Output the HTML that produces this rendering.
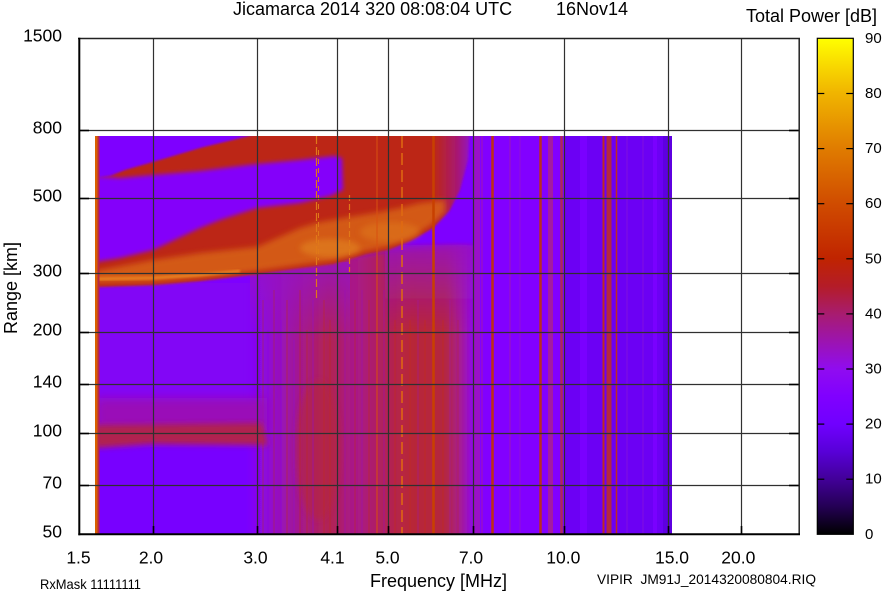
<!DOCTYPE html>
<html><head><meta charset="utf-8">
<style>
html,body{margin:0;padding:0;background:#fff;}
svg{display:block;}
text{font-family:"Liberation Sans",Arial,sans-serif;fill:#000;}
</style></head><body>
<svg width="884" height="595" viewBox="0 0 884 595" xmlns="http://www.w3.org/2000/svg">
<defs>
 <linearGradient id="cb" x1="0" y1="0" x2="0" y2="1">
  <stop offset="0" stop-color="#ffff00"/>
  <stop offset="0.056" stop-color="#f8d800"/>
  <stop offset="0.111" stop-color="#f0b400"/>
  <stop offset="0.167" stop-color="#e89800"/>
  <stop offset="0.222" stop-color="#e07c00"/>
  <stop offset="0.278" stop-color="#d86400"/>
  <stop offset="0.333" stop-color="#d04c00"/>
  <stop offset="0.389" stop-color="#c83800"/>
  <stop offset="0.444" stop-color="#c02400"/>
  <stop offset="0.500" stop-color="#b41c28"/>
  <stop offset="0.556" stop-color="#a81c70"/>
  <stop offset="0.611" stop-color="#9c14b0"/>
  <stop offset="0.667" stop-color="#900cf0"/>
  <stop offset="0.722" stop-color="#8000ff"/>
  <stop offset="0.778" stop-color="#7000ff"/>
  <stop offset="0.833" stop-color="#5800d8"/>
  <stop offset="0.889" stop-color="#420098"/>
  <stop offset="0.944" stop-color="#240054"/>
  <stop offset="1" stop-color="#000000"/>
 </linearGradient>
 <linearGradient id="lowmid" x1="248" y1="0" x2="476" y2="0" gradientUnits="userSpaceOnUse">
  <stop offset="0" stop-color="#8000ff"/>
  <stop offset="0.13" stop-color="#9610c0"/>
  <stop offset="0.27" stop-color="#aa1c78"/>
  <stop offset="0.36" stop-color="#b22450"/>
  <stop offset="0.46" stop-color="#a8188c"/>
  <stop offset="0.58" stop-color="#b02060"/>
  <stop offset="0.71" stop-color="#b82838"/>
  <stop offset="0.87" stop-color="#b42840"/>
  <stop offset="0.94" stop-color="#a41aa0"/>
  <stop offset="1" stop-color="#8800f8"/>
 </linearGradient>
 <linearGradient id="redF" x1="95" y1="0" x2="472" y2="0" gradientUnits="userSpaceOnUse">
  <stop offset="0" stop-color="#bc2818"/>
  <stop offset="0.9" stop-color="#bc2818"/>
  <stop offset="0.96" stop-color="#a81870"/>
  <stop offset="1" stop-color="#9010d0"/>
 </linearGradient>
 <linearGradient id="topfade" x1="0" y1="0" x2="0" y2="1">
  <stop offset="0" stop-color="#9612c4" stop-opacity="0.85"/>
  <stop offset="1" stop-color="#9612c4" stop-opacity="0"/>
 </linearGradient>
 <clipPath id="hm"><rect x="95" y="136" width="577" height="398"/></clipPath>
 <filter id="b1" x="-20%" y="-20%" width="140%" height="140%"><feGaussianBlur stdDeviation="1"/></filter>
 <filter id="b2" x="-20%" y="-20%" width="140%" height="140%"><feGaussianBlur stdDeviation="2"/></filter>
 <filter id="b3" x="-20%" y="-20%" width="140%" height="140%"><feGaussianBlur stdDeviation="3"/></filter>
 <filter id="b5" x="-20%" y="-30%" width="140%" height="160%"><feGaussianBlur stdDeviation="5"/></filter>
</defs>

<rect x="0" y="0" width="884" height="595" fill="#fff"/>

<!-- heatmap -->
<g clip-path="url(#hm)">
 <rect x="95" y="136" width="577" height="398" fill="#7e00ff"/>
 <rect x="95" y="447" width="170" height="87" fill="#7800ff"/>
 <rect x="95" y="283" width="165" height="120" fill="#8206f6"/>
 <rect x="473" y="136" width="92" height="398" fill="#8200ff"/>
 <rect x="565" y="136" width="107" height="398" fill="#6c00f4"/>
 <rect x="663" y="136" width="9" height="398" fill="#5e00e0"/>

 <!-- lower middle reddish region -->
 <polygon points="250,268 300,264 340,258 390,250 470,246 476,246 476,540 250,540" fill="url(#lowmid)" filter="url(#b3)"/>
 <rect x="250" y="262" width="100" height="80" fill="url(#topfade)"/>
 <rect x="385" y="245" width="90" height="85" fill="url(#topfade)" filter="url(#b2)"/>
 <ellipse cx="318" cy="450" rx="22" ry="70" fill="#b42840" opacity="0.6" filter="url(#b3)"/>
 <!-- streaks -->
 <g stroke-width="1.2" opacity="0.45">
  <line x1="263" y1="300" x2="263" y2="534" stroke="#b02840"/>
  <line x1="268" y1="330" x2="268" y2="534" stroke="#8600f0"/>
  <line x1="274" y1="290" x2="274" y2="534" stroke="#b42838"/>
  <line x1="281" y1="320" x2="281" y2="534" stroke="#8a04e8"/>
  <line x1="287" y1="300" x2="287" y2="534" stroke="#c02c20"/>
  <line x1="294" y1="340" x2="294" y2="534" stroke="#9010d0"/>
  <line x1="300" y1="290" x2="300" y2="534" stroke="#c02c20"/>
  <line x1="307" y1="330" x2="307" y2="534" stroke="#c02c20"/>
  <line x1="313" y1="300" x2="313" y2="534" stroke="#9010d0"/>
  <line x1="324" y1="300" x2="324" y2="534" stroke="#c02c20"/>
  <line x1="330" y1="320" x2="330" y2="534" stroke="#c02c20"/>
  <line x1="345" y1="290" x2="345" y2="534" stroke="#9a10b8"/>
  <line x1="355" y1="300" x2="355" y2="534" stroke="#c02c20"/>
  <line x1="362" y1="290" x2="362" y2="534" stroke="#9a10b8"/>
  <line x1="369" y1="300" x2="369" y2="534" stroke="#c02c20"/>
  <line x1="384" y1="290" x2="384" y2="534" stroke="#9a10b8"/>
  <line x1="395" y1="320" x2="395" y2="534" stroke="#c43018"/>
  <line x1="410" y1="320" x2="410" y2="534" stroke="#c43018"/>
  <line x1="418" y1="300" x2="418" y2="534" stroke="#a018a0"/>
  <line x1="425" y1="320" x2="425" y2="534" stroke="#c43018"/>
  <line x1="443" y1="320" x2="443" y2="534" stroke="#c43018"/>
  <line x1="450" y1="300" x2="450" y2="534" stroke="#a018a0"/>
  <line x1="458" y1="320" x2="458" y2="534" stroke="#b42840"/>
 </g>

 <!-- E-layer band -->
 <rect x="95" y="398" width="172" height="32" fill="#9a10b8" filter="url(#b5)"/>
 <path d="M95,425 L262,423 L268,445 L150,444 L95,448 Z" fill="#b02050" filter="url(#b3)"/>

 <!-- F region red -->
 <polygon points="95,287 153,285 200,281 257,274 300,268 333,264 367,254 388,250 410,241 433,228 450,210 460,190 468,160 470,130 270,130 245,137 200,148 153,162 125,170 110,176 95,178" fill="url(#redF)" filter="url(#b1)"/>
 <!-- gap between traces -->
 <polygon points="95,176 120,178 153,175 200,171 257,164 300,160 335,156 342,158 343,190 330,196 300,203 257,208 220,220 200,228 153,250 120,258 95,262" fill="#8400fa" filter="url(#b2)"/>
 <!-- orange core -->
 <polygon points="95,283 153,282 200,278 257,271 300,265 333,261 367,251 388,247 410,238 430,226 445,212 445,200 420,203 400,208 380,212 350,217 320,222 300,228 257,247 200,253 153,260 95,271" fill="#d86412" opacity="0.85" filter="url(#b3)"/>
 <ellipse cx="330" cy="248" rx="30" ry="9" fill="#e48a20" opacity="0.55" filter="url(#b3)"/>
 <ellipse cx="390" cy="232" rx="30" ry="10" fill="#e07c1c" opacity="0.5" filter="url(#b3)"/>
 <polyline points="95,279 153,278 200,275 240,271" fill="none" stroke="#e88020" stroke-width="3" filter="url(#b1)"/>

 <!-- left edge stripe -->
 <rect x="95" y="136" width="2.5" height="398" fill="#d86000"/>
 <rect x="97.5" y="136" width="2" height="398" fill="#b42848"/>

 <!-- vertical stripes -->
 <g fill="none">
  <line x1="316.5" y1="136" x2="316.5" y2="300" stroke="#e07818" stroke-width="1.2" stroke-dasharray="8 3"/>
  <line x1="318.5" y1="150" x2="318.5" y2="260" stroke="#e07818" stroke-width="1" stroke-dasharray="5 4"/>
  <line x1="349.5" y1="195" x2="349.5" y2="272" stroke="#e07818" stroke-width="1.2" stroke-dasharray="6 3"/>
  <line x1="377" y1="136" x2="377" y2="534" stroke="#d85010" stroke-width="1"/>
  <line x1="402" y1="136" x2="402" y2="534" stroke="#e06a10" stroke-width="1.5" stroke-dasharray="12 5"/>
  <line x1="433.5" y1="136" x2="433.5" y2="534" stroke="#c84000" stroke-width="2.5"/>
  <rect x="473" y="136" width="7" height="398" fill="#9a10c8" stroke="none"/>
  <line x1="482" y1="136" x2="482" y2="534" stroke="#a018b0" stroke-width="1"/>
  <line x1="492.5" y1="136" x2="492.5" y2="534" stroke="#c03010" stroke-width="2.5"/>
  <line x1="510" y1="136" x2="510" y2="534" stroke="#9210d0" stroke-width="1.5"/>
  <line x1="520" y1="136" x2="520" y2="534" stroke="#9010d8" stroke-width="1"/>
  <line x1="540.5" y1="136" x2="540.5" y2="534" stroke="#bc2c20" stroke-width="2.5"/>
  <line x1="550.5" y1="136" x2="550.5" y2="534" stroke="#a41ca0" stroke-width="5"/>
  <line x1="561.5" y1="136" x2="561.5" y2="534" stroke="#b02858" stroke-width="2.5"/>
  <line x1="583.5" y1="136" x2="583.5" y2="534" stroke="#7a00ff" stroke-width="7"/>
  <line x1="603.5" y1="136" x2="603.5" y2="534" stroke="#bc2c20" stroke-width="2"/>
  <line x1="609" y1="136" x2="609" y2="534" stroke="#b42840" stroke-width="5"/>
  <line x1="616.5" y1="136" x2="616.5" y2="534" stroke="#c02c20" stroke-width="1.5"/>
  <line x1="627" y1="136" x2="627" y2="534" stroke="#8010e0" stroke-width="1"/>
  <line x1="643" y1="136" x2="643" y2="534" stroke="#8010e0" stroke-width="1"/>
  <line x1="655" y1="136" x2="655" y2="534" stroke="#7a00ff" stroke-width="4"/>
 </g>
</g>

<!-- grid -->
<g stroke="#303030" stroke-width="1.2">
 <line x1="153.5" y1="38" x2="153.5" y2="534"/>
 <line x1="257.5" y1="38" x2="257.5" y2="534"/>
 <line x1="337.5" y1="38" x2="337.5" y2="534"/>
 <line x1="388.5" y1="38" x2="388.5" y2="534"/>
 <line x1="473.5" y1="38" x2="473.5" y2="534"/>
 <line x1="564.5" y1="38" x2="564.5" y2="534"/>
 <line x1="668.5" y1="38" x2="668.5" y2="534"/>
 <line x1="741.5" y1="38" x2="741.5" y2="534"/>
 <line x1="79" y1="130.5" x2="799" y2="130.5"/>
 <line x1="79" y1="198.5" x2="799" y2="198.5"/>
 <line x1="79" y1="273.5" x2="799" y2="273.5"/>
 <line x1="79" y1="332.5" x2="799" y2="332.5"/>
 <line x1="79" y1="384.5" x2="799" y2="384.5"/>
 <line x1="79" y1="433.5" x2="799" y2="433.5"/>
 <line x1="79" y1="485.5" x2="799" y2="485.5"/>
</g>
<!-- ticks -->
<g stroke="#000" stroke-width="1.6">
 <line x1="79" y1="130.5" x2="89" y2="130.5"/><line x1="789" y1="130.5" x2="799" y2="130.5"/>
 <line x1="79" y1="198.5" x2="89" y2="198.5"/><line x1="789" y1="198.5" x2="799" y2="198.5"/>
 <line x1="79" y1="273.5" x2="89" y2="273.5"/><line x1="789" y1="273.5" x2="799" y2="273.5"/>
 <line x1="79" y1="332.5" x2="89" y2="332.5"/><line x1="789" y1="332.5" x2="799" y2="332.5"/>
 <line x1="79" y1="384.5" x2="89" y2="384.5"/><line x1="789" y1="384.5" x2="799" y2="384.5"/>
 <line x1="79" y1="433.5" x2="89" y2="433.5"/><line x1="789" y1="433.5" x2="799" y2="433.5"/>
 <line x1="79" y1="485.5" x2="89" y2="485.5"/><line x1="789" y1="485.5" x2="799" y2="485.5"/>
 <line x1="153.5" y1="534" x2="153.5" y2="526"/>
 <line x1="257.5" y1="534" x2="257.5" y2="526"/>
 <line x1="337.5" y1="534" x2="337.5" y2="526"/>
 <line x1="388.5" y1="534" x2="388.5" y2="526"/>
 <line x1="473.5" y1="534" x2="473.5" y2="526"/>
 <line x1="564.5" y1="534" x2="564.5" y2="526"/>
 <line x1="668.5" y1="534" x2="668.5" y2="526"/>
 <line x1="741.5" y1="534" x2="741.5" y2="526"/>
</g>
<!-- frame -->
<line x1="78" y1="38.5" x2="800" y2="38.5" stroke="#222" stroke-width="1.5"/>
<line x1="799.2" y1="38" x2="799.2" y2="535" stroke="#222" stroke-width="1.5"/>
<line x1="79.3" y1="37.8" x2="79.3" y2="535.3" stroke="#000" stroke-width="2"/>
<line x1="78.3" y1="534.3" x2="800" y2="534.3" stroke="#000" stroke-width="2"/>

<!-- colorbar -->
<rect x="817.3" y="38.3" width="36" height="496" fill="url(#cb)" stroke="#000" stroke-width="1.2"/>
<g stroke="#000" stroke-width="1.2">
 <line x1="817.3" y1="479.2" x2="824.3" y2="479.2"/><line x1="846.3" y1="479.2" x2="853.3" y2="479.2"/>
 <line x1="817.3" y1="424.1" x2="824.3" y2="424.1"/><line x1="846.3" y1="424.1" x2="853.3" y2="424.1"/>
 <line x1="817.3" y1="369.0" x2="824.3" y2="369.0"/><line x1="846.3" y1="369.0" x2="853.3" y2="369.0"/>
 <line x1="817.3" y1="313.9" x2="824.3" y2="313.9"/><line x1="846.3" y1="313.9" x2="853.3" y2="313.9"/>
 <line x1="817.3" y1="258.8" x2="824.3" y2="258.8"/><line x1="846.3" y1="258.8" x2="853.3" y2="258.8"/>
 <line x1="817.3" y1="203.7" x2="824.3" y2="203.7"/><line x1="846.3" y1="203.7" x2="853.3" y2="203.7"/>
 <line x1="817.3" y1="148.6" x2="824.3" y2="148.6"/><line x1="846.3" y1="148.6" x2="853.3" y2="148.6"/>
 <line x1="817.3" y1="93.5" x2="824.3" y2="93.5"/><line x1="846.3" y1="93.5" x2="853.3" y2="93.5"/>
</g>
<g font-size="15" style="fill:#222">
 <text x="865" y="538.8">0</text>
 <text x="865" y="483.7">10</text>
 <text x="865" y="428.6">20</text>
 <text x="865" y="373.5">30</text>
 <text x="865" y="318.4">40</text>
 <text x="865" y="263.3">50</text>
 <text x="865" y="208.2">60</text>
 <text x="865" y="153.1">70</text>
 <text x="865" y="98.0">80</text>
 <text x="865" y="42.9">90</text>
</g>

<!-- titles -->
<text x="233" y="15" font-size="18">Jicamarca 2014 320 08:08:04 UTC</text>
<text x="556" y="15" font-size="18">16Nov14</text>
<text x="746" y="22" font-size="18">Total Power [dB]</text>

<!-- y labels -->
<g font-size="17.5" text-anchor="end">
 <text x="62" y="41.7">1500</text>
 <text x="62" y="133.4">800</text>
 <text x="62" y="201.7">500</text>
 <text x="62" y="276.7">300</text>
 <text x="62" y="335.7">200</text>
 <text x="62" y="387.7">140</text>
 <text x="62" y="436.7">100</text>
 <text x="62" y="488.7">70</text>
 <text x="62" y="537.6">50</text>
</g>
<text transform="translate(17,288) rotate(-90)" font-size="18" text-anchor="middle">Range [km]</text>

<!-- x labels -->
<g font-size="17.5" text-anchor="middle">
 <text x="78.5" y="563.5">1.5</text>
 <text x="151" y="563.5">2.0</text>
 <text x="255.5" y="563.5">3.0</text>
 <text x="332.5" y="563.5">4.1</text>
 <text x="387.5" y="563.5">5.0</text>
 <text x="471" y="563.5">7.0</text>
 <text x="563.3" y="563.5">10.0</text>
 <text x="672" y="563.5">15.0</text>
 <text x="738.3" y="563.5">20.0</text>
</g>
<text x="370" y="587" font-size="18">Frequency [MHz]</text>
<text x="40" y="589" font-size="14" textLength="101" lengthAdjust="spacingAndGlyphs">RxMask 11111111</text>
<text x="597" y="584" font-size="14" textLength="219" lengthAdjust="spacingAndGlyphs">VIPIR&#160;&#160;JM91J_2014320080804.RIQ</text>
</svg>
</body></html>
